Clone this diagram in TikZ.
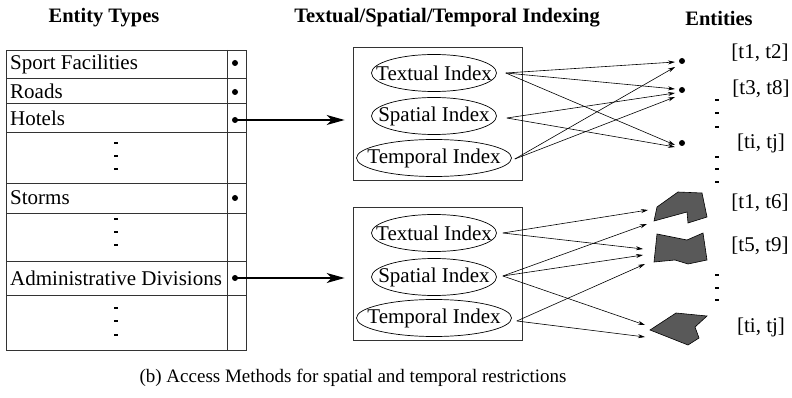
\documentclass[tikz,border=0pt]{standalone}
\usepackage{fontspec}
\setmainfont{Liberation Serif}
\usetikzlibrary{arrows.meta,shapes.geometric,calc}

\tikzset{
  grid line/.style={line width=0.8pt, black!80},
  dotmark/.style={circle, fill, inner sep=0pt, minimum size=6pt},
  gapmark/.style={line width=1.3pt},
  idxbox/.style={draw, line width=0.8pt, black!80, minimum width=169pt, minimum height=133pt},
  idxell/.style={draw, ellipse, line width=0.7pt, inner sep=0pt, minimum height=37pt},
  bigarrow/.style={line width=1.5pt, -{Stealth[length=18pt,width=10pt,inset=5pt]}},
  thinarrow/.style={line width=0.6pt, -{Stealth[length=7pt,width=4pt]}},
  area/.style={draw, line width=0.6pt, fill=black!65},
  heading/.style={font=\fontsize{20.5}{24}\selectfont\bfseries},
}

\begin{document}
\begin{tikzpicture}[x=1pt,y=-1pt,font=\fontsize{21}{25}\selectfont]
	\useasboundingbox (0,0) rectangle (792,398);

	% headings
	\node[heading] (hTypes) at (104,18) {Entity Types};
	\node[heading] (hIndex) at (447,18) {Textual/Spatial/Temporal Indexing};
	\node[heading] (hEnt) at (719,18) {Entities};

	% entity type table
	\draw[grid line] (6,50) rectangle (246,350);
	\draw[grid line] (227,50) -- (227,350);
	\foreach \y in {78,103,132,183,213,261,295}
		\draw[grid line] (6,\y) -- (246,\y);
	\node[anchor=west, inner sep=2pt] (tSport) at (8,64) {Sport Facilities};
	\node[anchor=west, inner sep=2pt] (tRoads) at (8,91) {Roads};
	\node[anchor=west, inner sep=2pt] (tHotels) at (8,118) {Hotels};
	\node[anchor=west, inner sep=2pt] (tStorms) at (8,198) {Storms};
	\node[anchor=west, inner sep=2pt] (tAdmin) at (8,278) {Administrative Divisions};
	\node[dotmark] (dSport) at (235,63) {};
	\node[dotmark] (dRoads) at (235,92) {};
	\node[dotmark] (dHotels) at (235,120) {};
	\node[dotmark] (dStorms) at (235,198) {};
	\node[dotmark] (dAdmin) at (235,278) {};
	\foreach \y in {143,156,169,219,232,245,308,321,335}
		\draw[gapmark] (114,\y) -- (118,\y);

	% index boxes
	\node[idxbox] (ixA) at (437.5,113.5) {};
	\node[idxbox] (ixB) at (437.5,274) {};
	\node[idxell, minimum width=125pt, label=center:Textual Index] (txA) at (434,73) {};
	\node[idxell, minimum width=125pt, label=center:Spatial Index] (spA) at (434,116) {};
	\node[idxell, minimum width=155pt, label=center:Temporal Index] (tmA) at (434,158) {};
	\node[idxell, minimum width=125pt, label=center:Textual Index] (txB) at (434,233) {};
	\node[idxell, minimum width=125pt, label=center:Spatial Index] (spB) at (434,277) {};
	\node[idxell, minimum width=155pt, label=center:Temporal Index] (tmB) at (434,318) {};

	\draw[bigarrow] (dHotels.center) -- ($(dHotels -| ixA.west)+(-8,0)$);
	\draw[bigarrow] (dAdmin.center) -- ($(dAdmin -| ixB.west)+(-8,0)$);

	% entities
	\node[dotmark] (e1) at (682,61) {};
	\node[dotmark] (e2) at (682,90) {};
	\node[dotmark] (e3) at (682,143) {};
	\node (l1) at (760,53) {[t1, t2]};
	\node (l2) at (761,89) {[t3, t8]};
	\node (l3) at (761,143) {[ti, tj]};
	\node (l4) at (760,203) {[t1, t6]};
	\node (l5) at (760,246) {[t5, t9]};
	\node (l6) at (761,327) {[ti, tj]};
	\foreach \y in {100,113,127,157,169,182,275,288,300}
		\draw[gapmark] (715,\y) -- (719,\y);

	\draw[area] (654,221) -- (657,207) -- (678,192) -- (702,193) -- (707,217) -- (688,223) -- (687,212) -- cycle;
	\draw[area] (657,234) -- (687,240) -- (703,233) -- (707,260) -- (688,264) -- (675,260) -- (654,262) -- cycle;
	\draw[area] (650,330) -- (676,313) -- (707,316) -- (695,327) -- (699,338) -- (688,345) -- cycle;
	\coordinate (a1) at (655,215);
	\coordinate (a2) at (655,250);
	\coordinate (a3) at (655,330);

	% index to entity links
	\coordinate (oTxA) at ($(txA.east)+(9,0)$);
	\coordinate (oSpA) at ($(spA.east)+(10,2)$);
	\coordinate (oTmA) at ($(tmA.east)+(3,1)$);
	\coordinate (oTxB) at ($(txB.east)+(6,0)$);
	\coordinate (oSpB) at ($(spB.east)+(6,-1)$);
	\coordinate (oTmB) at ($(tmB.east)+(5,3)$);
	\foreach \s/\t/\dx/\dy in {oTxA/e1/-7/1, oTxA/e2/-7/-1, oTxA/e3/-7/2, oSpA/e2/-7/3, oSpA/e3/-7/4, oTmA/e1/-7/6, oTmA/e2/-7/7,
		oTxB/a1/-7/-5, oTxB/a2/-12/-1, oSpB/a1/-8/9, oSpB/a2/-12/5, oSpB/a3/-10/-5, oTmB/a2/-10/14, oTmB/a3/-10/7}
		\draw[thinarrow] (\s) -- ($(\t)+(\dx,\dy)$);

	\node[font=\fontsize{19}{23}\selectfont] (cap) at (353,378) {(b) Access Methods for spatial and temporal restrictions};
\end{tikzpicture}
\end{document}
